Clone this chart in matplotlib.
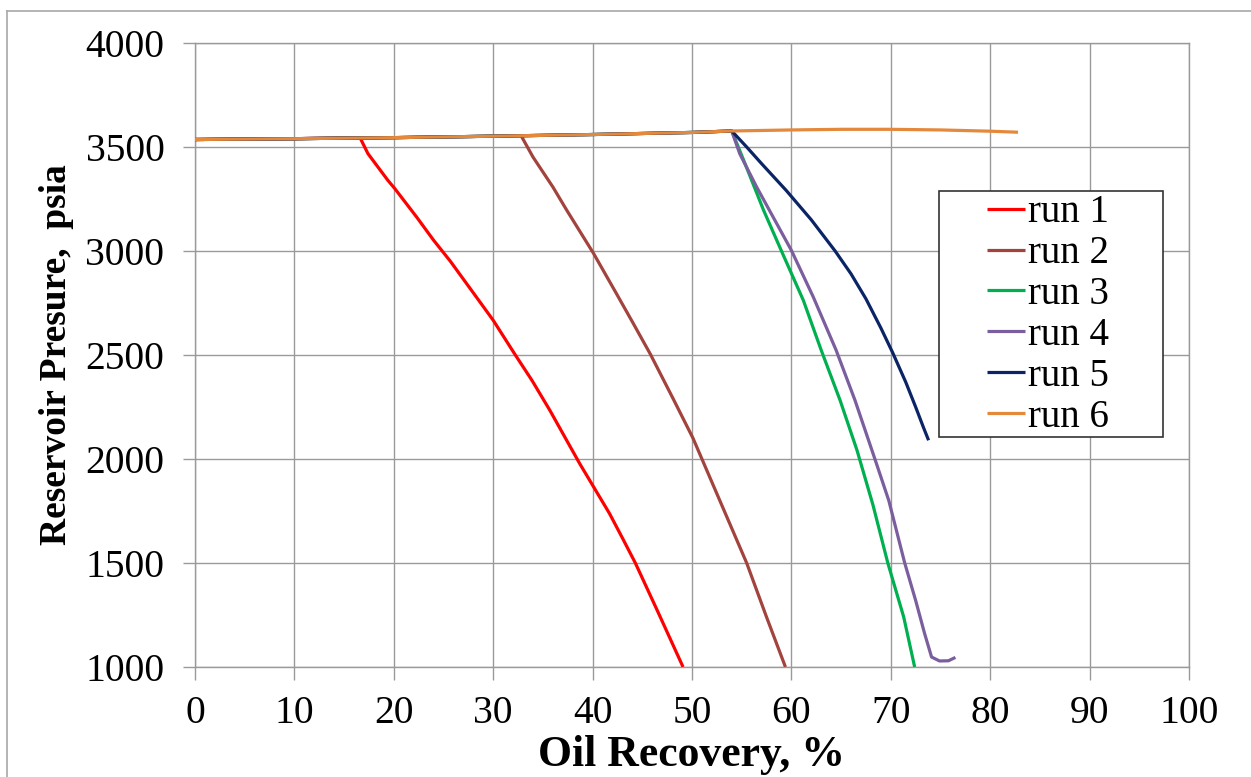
import matplotlib
matplotlib.use("Agg")
import matplotlib.pyplot as plt
from matplotlib.lines import Line2D
from matplotlib.patches import Rectangle

# Oil recovery (%) and reservoir pressure (psia) for each run
run1_x = [0, 10, 16.6, 17.4, 19.4, 20.1, 22.3, 24.0, 25.7, 28.3, 30.0, 32.2, 33.9,
          35.7, 38.7, 40.1, 41.7, 43.0, 44.3, 46.6, 49.1]
run1_p = [3536, 3540, 3545, 3468, 3340, 3300, 3163, 3052, 2950, 2779, 2667, 2502, 2378,
          2234, 1978, 1866, 1738, 1620, 1500, 1262, 1000]

run2_x = [0, 10, 20, 30, 32.8, 34.0, 36.0, 37.4, 40.1, 42.4, 44.1, 45.8, 48.1, 50.1,
          52.8, 55.5, 57.5, 59.4]
run2_p = [3536, 3540, 3545, 3552, 3555, 3452, 3308, 3196, 2988, 2795, 2651, 2505, 2290, 2100,
          1800, 1500, 1240, 1000]

run3_x = [0, 10, 20, 30, 40, 50, 54, 55.2, 57.2, 59.0, 61.2, 63.0, 64.9, 66.6, 68.2, 69.7,
          71.3, 72.4]
run3_p = [3536, 3540, 3545, 3552, 3560, 3570, 3577, 3436, 3196, 3000, 2763, 2523, 2282, 2042,
          1780, 1500, 1240, 1000]

run4_x = [0, 10, 20, 30, 40, 50, 54, 54.8, 56.5, 60.0, 62.2, 64.5, 66.4, 68.4, 69.8, 71.4,
          72.5, 73.4, 74.1, 74.9, 75.8, 76.5]
run4_p = [3536, 3540, 3545, 3552, 3560, 3570, 3577, 3468, 3308, 3003, 2779, 2523, 2282, 2000,
          1800, 1500, 1320, 1161, 1048, 1029, 1030, 1046]

run5_x = [0, 10, 20, 30, 40, 50, 54, 55.5, 57.0, 59.5, 62.0, 64.4, 66.0, 67.5, 69.0, 70.2,
          71.5, 72.5, 73.3, 73.8]
run5_p = [3536, 3540, 3545, 3552, 3560, 3570, 3577, 3500, 3420, 3290, 3150, 3000, 2890, 2770,
          2630, 2510, 2370, 2250, 2150, 2090]

run6_x = [0, 10, 20, 30, 40, 50, 54, 60, 65, 70, 75, 80, 82.8]
run6_p = [3536, 3540, 3545, 3552, 3560, 3570, 3577, 3582, 3585, 3585, 3582, 3576, 3571]

labels = ["run 1", "run 2", "run 3", "run 4", "run 5", "run 6"]
colors = ["#FF0000", "#A3433D", "#00B050", "#7B5E9E", "#0B2466", "#E4883C"]

x_ticks = list(range(0, 101, 10))
y_ticks = list(range(1000, 4001, 500))

plt.rcParams["font.family"] = ["Liberation Serif", "DejaVu Serif"]

W, H = 1251, 777
fig = plt.figure(figsize=(W / 100, H / 100), dpi=100)
ax = fig.add_axes([195 / W, 1 - 667 / H, (1189 - 195) / W, (667 - 43) / H])

series = [(run1_x, run1_p), (run2_x, run2_p), (run3_x, run3_p),
          (run4_x, run4_p), (run5_x, run5_p), (run6_x, run6_p)]
handles = []
for (xs, ps), lab, col in zip(series, labels, colors):
    h, = ax.plot(xs, ps, color=col, lw=2.3, label=lab, solid_joinstyle="round",
                 solid_capstyle="butt", zorder=3)
    handles.append(h)

ax.set_xlim(0, 100)
ax.set_ylim(1000, 4000)
ax.set_xticks(x_ticks)
ax.set_yticks(y_ticks)
ax.grid(True, color="#9a9a9a", lw=1.0)
ax.set_axisbelow(True)
for s in ax.spines.values():
    s.set_color("#9a9a9a")
    s.set_linewidth(1.0)
ax.tick_params(axis="both", colors="#9a9a9a", labelcolor="black", labelsize=28.5,
               length=9, width=1.0)
ax.tick_params(axis="y", pad=13)
ax.tick_params(axis="x", pad=11)

ax.set_xlabel("Oil Recovery, %", fontsize=31.5, fontweight="bold", labelpad=2)
ax.set_ylabel("Reservoir Presure,  psia", fontsize=27, fontweight="bold", labelpad=8)

# Legend frame and entries
lx0, ly0, lx1, ly1 = 939, 191, 1163, 437
fig.patches.append(Rectangle((lx0 / W, 1 - ly1 / H), (lx1 - lx0) / W, (ly1 - ly0) / H,
                             transform=fig.transFigure, facecolor="white",
                             edgecolor="#333333", lw=1.2, zorder=5))
leg = fig.legend(handles=handles, labels=labels, loc="center",
                 bbox_to_anchor=(1048 / W, 1 - 315 / H),
                 frameon=False, fontsize=28, handlelength=1.0, handletextpad=0.08,
                 labelspacing=0.1, borderpad=0)
leg.set_zorder(6)

# Outer chart border
fig.add_artist(Line2D([7 / W, 7 / W], [0, 1 - 11 / H], transform=fig.transFigure,
                      color="#a8a8a8", lw=1.2))
fig.add_artist(Line2D([7 / W, 1], [1 - 11 / H, 1 - 11 / H], transform=fig.transFigure,
                      color="#a8a8a8", lw=1.2))

fig.savefig("out.png", dpi=100)
